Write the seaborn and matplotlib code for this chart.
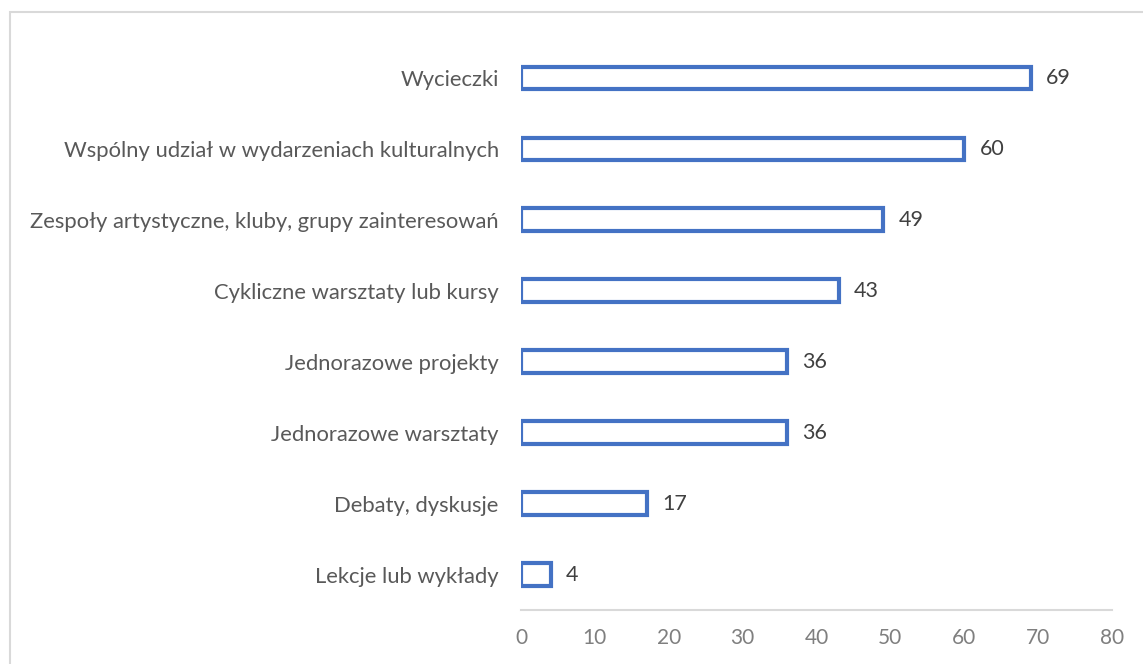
import matplotlib
matplotlib.use("Agg")
import matplotlib.pyplot as plt
import seaborn as sns
import pandas as pd
from matplotlib.patches import Rectangle

categories = [
    "Wycieczki",
    "Wspólny udział w wydarzeniach kulturalnych",
    "Zespoły artystyczne, kluby, grupy zainteresowań",
    "Cykliczne warsztaty lub kursy",
    "Jednorazowe projekty",
    "Jednorazowe warsztaty",
    "Debaty, dyskusje",
    "Lekcje lub wykłady",
]
values = [69, 60, 49, 43, 36, 36, 17, 4]
xticks = [0, 10, 20, 30, 40, 50, 60, 70, 80]

sns.set_theme(style="white")
plt.rcParams['font.family'] = ['Lato', 'DejaVu Sans']

df = pd.DataFrame({"cat": categories, "val": values})

fig = plt.figure(figsize=(11.43, 6.64), dpi=100)
fig.patches.append(Rectangle((10/1143, -0.1), 1.2, 1 - 12/664 + 0.1,
                             transform=fig.transFigure, fill=False,
                             edgecolor="#d9d9d9", linewidth=1.5, zorder=0))
ax = fig.add_axes([521/1143, 1 - 610/664, (1112 - 521)/1143, (610 - 42.5)/664])
ax.set_facecolor("none")

sns.barplot(data=df, x="val", y="cat", orient="h", ax=ax, width=0.32,
            facecolor="white", edgecolor="#4472C4", linewidth=3)

for i, v in enumerate(values):
    ax.annotate(str(v), xy=(v, i), xytext=(11, 0), textcoords="offset points",
                va="center", ha="left", fontsize=15.5, color="#404040")

ax.set_xlim(0, 80)
ax.set_ylim(7.5, -0.5)
ax.set_xticks(xticks)
ax.set_xticklabels([str(t) for t in xticks])
ax.set_xlabel("")
ax.set_ylabel("")
ax.tick_params(axis="x", length=0, labelsize=15, labelcolor="#7f7f7f", pad=13)
ax.tick_params(axis="y", length=0, labelsize=15.8, labelcolor="#595959", pad=16)
for s in ["top", "right", "left"]:
    ax.spines[s].set_visible(False)
ax.spines["bottom"].set_color("#d9d9d9")
ax.spines["bottom"].set_linewidth(1.5)
ax.grid(False)

fig.savefig("out.png", dpi=100)
